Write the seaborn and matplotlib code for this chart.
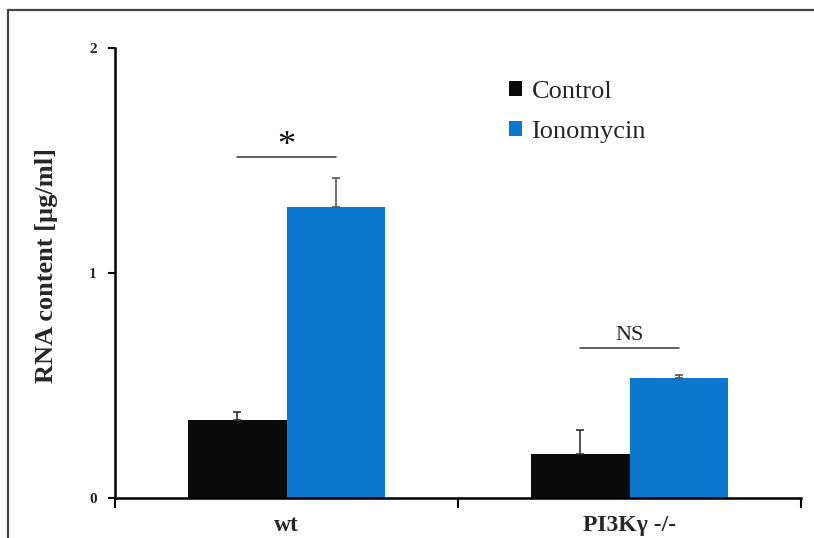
import matplotlib
matplotlib.use("Agg")
import matplotlib.pyplot as plt
import seaborn as sns
import pandas as pd
import numpy as np
from matplotlib.lines import Line2D
from matplotlib.patches import Patch

genotypes = ["wt", "PI3Kγ -/-"]
treatments = ["Control", "Ionomycin"]
control_vals = [0.347, 0.196]
ionomycin_vals = [1.293, 0.533]
control_err = [0.035, 0.105]
ionomycin_err = [0.128, 0.014]
sig_labels = ["*", "NS"]
sig_heights = [1.515, 0.667]
y_ticks = [0, 1, 2]

df = pd.DataFrame({
    "genotype": genotypes * 2,
    "treatment": [treatments[0]] * 2 + [treatments[1]] * 2,
    "value": control_vals + ionomycin_vals,
    "err": control_err + ionomycin_err,
})

sns.set_theme(style="white")
plt.rcParams["font.family"] = ["Liberation Serif", "DejaVu Serif"]

W, H = 814, 538
fig = plt.figure(figsize=(W / 100, H / 100), dpi=100)
ax = fig.add_axes([115 / W, 1 - 498 / H, (801 - 115) / W, (498 - 48) / H])

palette = {"Control": "#0a0a0a", "Ionomycin": "#0b78d0"}
sns.barplot(data=df, x="genotype", y="value", hue="treatment", order=genotypes,
            hue_order=treatments, palette=palette, width=0.572, gap=0,
            errorbar=None, ax=ax, legend=False, saturation=1, linewidth=0)

# error bars (upper only) from bar positions
for bars, errs, col in zip(ax.containers, [control_err, ionomycin_err], ["#333333", "#555555"]):
    for bar, e in zip(bars, errs):
        xc = bar.get_x() + bar.get_width() / 2
        h = bar.get_height()
        ax.errorbar([xc], [h], yerr=[[0], [e]], fmt="none", ecolor=col,
                    elinewidth=1.2, capsize=3, capthick=1.2)

# significance annotations
for i, (lab, yh) in enumerate(zip(sig_labels, sig_heights)):
    ax.plot([i - 0.143, i + 0.143], [yh, yh], color="#333333", lw=1.1)
    if lab == "*":
        ax.text(i, yh - 0.025, lab, ha="center", va="bottom", fontsize=26,
                color="#111111")
    else:
        ax.text(i, yh + 0.012, lab, ha="center", va="bottom", fontsize=16, color="#222222")

ax.set_xlim(-0.5, 1.5)
ax.set_ylim(0, 2)
ax.set_yticks(y_ticks)
ax.set_yticklabels([str(t) for t in y_ticks], fontweight="bold", fontsize=11)
ax.set_xticks([-0.5, 0.5, 1.5])
ax.set_xticklabels([])
ax.set_xticks([0, 1], minor=True)
ax.set_xticklabels(genotypes, minor=True, fontweight="bold", fontsize=17)
ax.tick_params(axis="x", which="minor", length=0, pad=12)
ax.tick_params(axis="x", which="major", direction="out", length=7, width=1.5, color="black", bottom=True)
ax.tick_params(axis="y", which="major", direction="out", length=5, width=1.5, color="black", left=True, pad=8)
ax.set_xlabel("")
ax.set_ylabel("RNA content [µg/ml]", fontweight="bold", fontsize=19)
ax.yaxis.set_label_coords(-0.083, 0.516)

for s in ["top", "right"]:
    ax.spines[s].set_visible(False)
for s in ["left", "bottom"]:
    ax.spines[s].set_color("black")
    ax.spines[s].set_linewidth(1.8)

# legend
handles = [Patch(facecolor=palette[t], edgecolor="none") for t in treatments]
fig.legend(handles, treatments, loc="upper left", bbox_to_anchor=(509 / W, 1 - 81 / H),
           frameon=False, fontsize=19, handlelength=0.5, handleheight=0.5,
           handletextpad=0.35, labelspacing=0.68, borderpad=0, borderaxespad=0)

# outer frame (top and left visible)
fig.add_artist(Line2D([8 / W, 1.0], [1 - 10 / H, 1 - 10 / H], transform=fig.transFigure,
                      color="#444444", lw=1.6))
fig.add_artist(Line2D([8 / W, 8 / W], [1 - 10 / H, 0.0], transform=fig.transFigure,
                      color="#444444", lw=1.6))

fig.savefig("out.png", dpi=100)
